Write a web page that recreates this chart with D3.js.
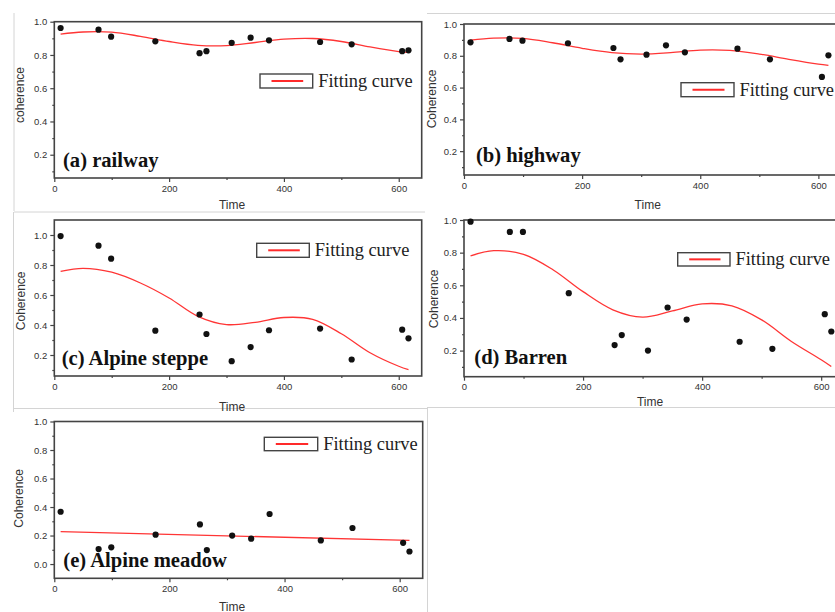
<!DOCTYPE html>
<html><head><meta charset="utf-8">
<script src="https://cdn.jsdelivr.net/npm/d3@7"></script>
<style>body{margin:0;background:#fff}svg{display:block}</style>
</head><body><svg id="chart" width="835" height="612"></svg>
<script>
// ---------- data ----------
const times = [11, 77, 99, 176, 253, 265, 309, 342, 374, 463, 518, 606, 617];
const railway = [0.962, 0.952, 0.910, 0.882, 0.811, 0.823, 0.873, 0.904, 0.888, 0.878, 0.864, 0.823, 0.828];
const highway = [0.885, 0.906, 0.895, 0.879, 0.849, 0.778, 0.807, 0.866, 0.822, 0.845, 0.778, 0.667, 0.803];
const steppe  = [0.993, 0.929, 0.842, 0.362, 0.470, 0.340, 0.159, 0.253, 0.365, 0.376, 0.170, 0.369, 0.311];
const barren  = [0.990, 0.927, 0.927, 0.552, 0.234, 0.295, 0.200, 0.464, 0.390, 0.254, 0.211, 0.423, 0.317];
const meadow  = [0.367, 0.105, 0.117, 0.206, 0.278, 0.098, 0.200, 0.178, 0.351, 0.166, 0.253, 0.149, 0.088];

const fitTimes   = [11, 50, 100, 150, 200, 250, 300, 350, 400, 450, 500, 550, 600, 617];
const railwayFit = [0.925, 0.938, 0.937, 0.912, 0.881, 0.858, 0.856, 0.875, 0.895, 0.899, 0.881, 0.848, 0.820, 0.815];
const highwayFit = [0.899, 0.911, 0.910, 0.882, 0.847, 0.820, 0.811, 0.820, 0.836, 0.834, 0.811, 0.778, 0.748, 0.740];
const steppeFit  = [0.758, 0.778, 0.752, 0.680, 0.580, 0.458, 0.403, 0.418, 0.450, 0.438, 0.342, 0.215, 0.125, 0.103];
const barrenFit  = [0.780, 0.812, 0.790, 0.694, 0.561, 0.450, 0.405, 0.443, 0.486, 0.474, 0.388, 0.256, 0.144, 0.103];
const meadowFitTimes = [11, 617];
const meadowFit  = [0.227, 0.166];

const xTicks = [0, 200, 400, 600];
const xMinorTicks = [100, 300, 500];
const yTicks = [0.0, 0.2, 0.4, 0.6, 0.8, 1.0];
const yMinorTicks = [0.1, 0.3, 0.5, 0.7, 0.9];
const panelLabels = ["(a) railway", "(b) highway", "(c) Alpine steppe", "(d) Barren", "(e) Alpine meadow"];
const yTitles = ["coherence", "Coherence", "Coherence", "Coherence", "Coherence"];
const xTitle = "Time";
const legendLabel = "Fitting curve";

// ---------- layout (positions only) ----------
const layout = [
  {box:[54.3, 21.7, 421.7, 178.0], yDom:[0.06, 1.0], yTitle:[20, 95],    xTitle:[232, 208.5], label:[63, 166.7],   legend:[260, 74, 52.7, 14],   legendBase:87},
  {box:[464.0, 24.0, 842.0, 175.0], yDom:[0.05, 1.0], yTitle:[431.7, 99], xTitle:[647.7, 209], label:[476, 161.7],  legend:[681, 82.7, 53, 14],   legendBase:95.6},
  {box:[54.3, 220.0, 421.7, 376.0], yDom:[0.06, 1.1], yTitle:[20.7, 300.8], xTitle:[232, 410.7], label:[61.7, 365], legend:[256.7, 243.3, 52.6, 14], legendBase:255.6},
  {box:[464.0, 220.0, 845.0, 376.7], yDom:[0.04, 1.0], yTitle:[433.3, 299], xTitle:[650, 406], label:[474.3, 364.3], legend:[677.7, 252.7, 52.3, 13.3], legendBase:265},
  {box:[54.3, 421.5, 422.7, 578.3], yDom:[-0.1, 1.0], yTitle:[18.3, 498.3], xTitle:[232, 610.5], label:[63.3, 566.7], legend:[264.3, 437.3, 53.4, 13.4], legendBase:449.6}
];
const series = [railway, highway, steppe, barren, meadow];
const fits = [railwayFit, highwayFit, steppeFit, barrenFit, meadowFit];
const fitT = [fitTimes, fitTimes, fitTimes, fitTimes, meadowFitTimes];

const svg = d3.select("#chart");
svg.append("rect").attr("width", 835).attr("height", 612).attr("fill", "#fff");

// screenshot frame lines
const frames = [
  [14, 13, 14, 211], [14, 212, 425, 212], [13.5, 212, 13.5, 412],
  [427, 13.5, 835, 13.5], [427, 407.5, 835, 407.5], [427.5, 407.5, 427.5, 612],
  [13, 408.5, 427, 408.5]
];
svg.selectAll("line.frame").data(frames).enter().append("line")
  .attr("x1", d => d[0]).attr("y1", d => d[1]).attr("x2", d => d[2]).attr("y2", d => d[3])
  .attr("stroke", "#d4d4d4").attr("stroke-width", 1);

const fmt = d3.format(".1f");
const sans = "'Liberation Sans', Arial, sans-serif";
const serif = "'Liberation Serif', 'Times New Roman', serif";

layout.forEach((L, i) => {
  const [x0, y0, x1, y1] = L.box;
  const x = d3.scaleLinear().domain([0, 640]).range([x0, x1]);
  const y = d3.scaleLinear().domain(L.yDom).range([y1, y0]);
  const g = svg.append("g");

  // axes
  const yt = yTicks.filter(v => v >= L.yDom[0] - 1e-9 && v <= L.yDom[1] + 1e-9);
  const ym = yMinorTicks.filter(v => v > L.yDom[0] && v < L.yDom[1]);
  g.append("g").attr("transform", `translate(${x0},0)`)
    .call(d3.axisLeft(y).tickValues(yt).tickFormat(fmt).tickSize(4).tickPadding(3));
  g.append("g").attr("transform", `translate(${x0},0)`)
    .call(d3.axisLeft(y).tickValues(ym).tickFormat("").tickSize(2))
    .select(".domain").remove();
  g.append("g").attr("transform", `translate(0,${y1})`)
    .call(d3.axisBottom(x).tickValues(xTicks).tickFormat(d3.format("d")).tickSize(4).tickPadding(3));
  g.append("g").attr("transform", `translate(0,${y1})`)
    .call(d3.axisBottom(x).tickValues(xMinorTicks).tickFormat("").tickSize(2))
    .select(".domain").remove();
  g.selectAll(".domain").remove();
  g.selectAll(".tick line").attr("stroke", "#444").attr("stroke-width", 1.2);
  g.selectAll(".tick text").attr("fill", "#333").style("font-family", sans).style("font-size", "9.5px");

  // box
  g.append("rect").attr("x", x0).attr("y", y0).attr("width", x1 - x0).attr("height", y1 - y0)
    .attr("fill", "none").attr("stroke", "#444").attr("stroke-width", 1.6);

  // titles
  g.append("text").attr("transform", `translate(${L.yTitle[0]},${L.yTitle[1]}) rotate(-90)`)
    .attr("text-anchor", "middle").attr("dy", "0.35em")
    .style("font-family", sans).style("font-size", "12px").attr("fill", "#333").text(yTitles[i]);
  g.append("text").attr("x", L.xTitle[0]).attr("y", L.xTitle[1]).attr("text-anchor", "middle")
    .style("font-family", sans).style("font-size", "12px").attr("fill", "#333").text(xTitle);

  // panel label
  g.append("text").attr("x", L.label[0]).attr("y", L.label[1])
    .style("font-family", serif).style("font-size", "20.6px").style("font-weight", "bold")
    .attr("fill", "#111").text(panelLabels[i]);

  // fitting curve
  const pts = fitT[i].map((t, k) => [t, fits[i][k]]);
  g.append("path").datum(pts)
    .attr("d", d3.line().x(d => x(d[0])).y(d => y(d[1])).curve(d3.curveCatmullRom.alpha(0.5)))
    .attr("fill", "none").attr("stroke", "#ff3535").attr("stroke-width", 1.3);

  // points
  g.selectAll("circle").data(times.map((t, k) => [t, series[i][k]])).enter().append("circle")
    .attr("cx", d => x(d[0])).attr("cy", d => y(d[1])).attr("r", 3.1).attr("fill", "#111");

  // legend
  const [lx, ly, lw, lh] = L.legend;
  g.append("rect").attr("x", lx).attr("y", ly).attr("width", lw).attr("height", lh)
    .attr("fill", "#fff").attr("stroke", "#444").attr("stroke-width", 1.4);
  g.append("line").attr("x1", lx + 11.5).attr("x2", lx + lw - 9.5)
    .attr("y1", ly + lh / 2).attr("y2", ly + lh / 2)
    .attr("stroke", "#ff2a2a").attr("stroke-width", 2);
  g.append("text").attr("x", lx + lw + 5.5).attr("y", L.legendBase)
    .style("font-family", serif).style("font-size", "18.4px").attr("fill", "#222").text(legendLabel);
});
</script>
</body></html>
